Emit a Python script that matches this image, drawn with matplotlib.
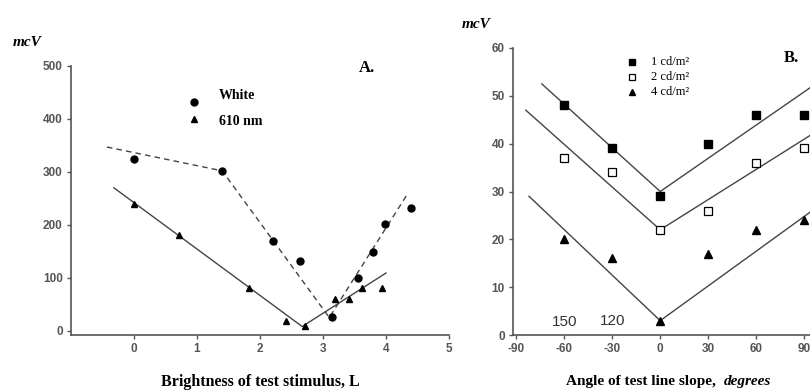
import matplotlib
matplotlib.use("Agg")
import matplotlib.pyplot as plt

plt.rcParams["axes.unicode_minus"] = False

# Panel A data
white_x = [0, 1.4, 2.2, 2.64, 3.14, 3.56, 3.8, 3.98, 4.4]
white_y = [324, 302, 170, 132, 26, 100, 149, 202, 232]
nm610_x = [0, 0.71, 1.82, 2.41, 2.72, 3.19, 3.41, 3.62, 3.94]
nm610_y = [240, 181, 81, 19, 9, 60, 60, 81, 81]
fit_white_x = [-0.43, 1.4, 3.1, 4.35]
fit_white_y = [347, 302, 25, 260]
fit_610_x = [-0.32, 2.67, 4.0]
fit_610_y = [270, 8, 109]

# Panel B data
angles = [-60, -30, 0, 30, 60, 90]
lum1 = [48, 39, 29, 40, 46, 46]
lum2 = [37, 34, 22, 26, 36, 39]
lum4 = [20, 16, 3, 17, 22, 24]
fit1_x, fit1_y = [-74, 0, 95], [52.5, 30, 52]
fit2_x, fit2_y = [-84, 0, 95], [47, 22, 42]
fit4_x, fit4_y = [-82, 0, 95], [29, 3, 26]

serif = "Liberation Serif"
sans = "Liberation Sans"
tick_color = "#555555"

fig = plt.figure(figsize=(8.1, 3.92), dpi=100)

def style_axes(ax):
    for s in ["top", "right"]:
        ax.spines[s].set_visible(False)
    for s in ["left", "bottom"]:
        ax.spines[s].set_color("#555555")
        ax.spines[s].set_linewidth(1.2)
    ax.tick_params(direction="out", length=3, width=1, colors="#555555",
                   labelsize=8.5, pad=3)
    for lab in ax.get_xticklabels() + ax.get_yticklabels():
        lab.set_fontfamily(sans)
        lab.set_fontweight("bold")
        lab.set_color(tick_color)

# ---- Panel A
axA = fig.add_axes([71 / 810, 1 - 335 / 392, (449 - 71) / 810, (335 - 66) / 392])
axA.set_xlim(-1, 5)
axA.set_ylim(-8, 500)
axA.plot(fit_white_x, fit_white_y, color="#444444", lw=1, ls=(0, (4, 3)))
axA.plot(fit_610_x, fit_610_y, color="#444444", lw=1)
axA.plot(white_x, white_y, "o", color="black", ms=5, ls="none")
axA.plot(nm610_x, nm610_y, "^", color="black", ms=4.5, ls="none")
axA.set_xticks([0, 1, 2, 3, 4, 5])
axA.set_yticks([0, 100, 200, 300, 400, 500])
style_axes(axA)

axA.plot([0.95], [432], "o", color="black", ms=5, clip_on=False)
axA.plot([0.95], [400], "^", color="black", ms=4.5, clip_on=False)
axA.text(1.35, 445, "White", fontfamily=serif, fontweight="bold", fontsize=10, va="center")
axA.text(1.35, 396, "610 nm", fontfamily=serif, fontweight="bold", fontsize=10, va="center")
axA.text(3.57, 496, "A.", fontfamily=serif, fontweight="bold", fontsize=12, va="center")
fig.text(13 / 810, 1 - 43 / 392, "mcV", fontfamily=serif, fontweight="bold",
         fontstyle="italic", fontsize=11, va="center")
fig.text(260 / 810, 1 - 382 / 392, "Brightness of test stimulus, L", fontfamily=serif,
         fontweight="bold", fontsize=11.5, ha="center", va="center")

# ---- Panel B
axB = fig.add_axes([513 / 810, 1 - 335 / 392, 1 - 513 / 810, (335 - 48) / 392])
axB.set_xlim(-92, 93.6)
axB.set_ylim(0, 60)
for fx, fy in [(fit1_x, fit1_y), (fit2_x, fit2_y), (fit4_x, fit4_y)]:
    axB.plot(fx, fy, color="#444444", lw=1)
axB.plot(angles, lum1, "s", color="black", ms=5.5, ls="none", clip_on=False)
axB.plot(angles, lum2, "s", mfc="white", mec="black", mew=0.9, ms=5.5, ls="none", clip_on=False)
axB.plot(angles, lum4, "^", color="black", ms=5.5, ls="none", clip_on=False)
axB.set_xticks([-90, -60, -30, 0, 30, 60, 90])
axB.set_yticks([0, 10, 20, 30, 40, 50, 60])
style_axes(axB)

legend_y = [57.1, 54.0, 50.8]
axB.plot([-17.5], [legend_y[0]], "s", color="black", ms=5, clip_on=False)
axB.plot([-17.5], [legend_y[1]], "s", mfc="white", mec="black", mew=0.9, ms=5, clip_on=False)
axB.plot([-17.5], [legend_y[2]], "^", color="black", ms=5, clip_on=False)
for yy, lab in zip(legend_y, ["1 cd/m²", "2 cd/m²", "4 cd/m²"]):
    axB.text(-6, yy, lab, fontfamily=serif, fontsize=9, va="center")
axB.text(77, 58, "B.", fontfamily=serif, fontweight="bold", fontsize=12, va="center")
axB.text(-60, 2.8, "150", fontfamily=sans, fontsize=11, color="#333333", ha="center", va="center")
axB.text(-30, 3.0, "120", fontfamily=sans, fontsize=11, color="#333333", ha="center", va="center")
fig.text(462 / 810, 1 - 24 / 392, "mcV", fontfamily=serif, fontweight="bold",
         fontstyle="italic", fontsize=11, va="center")
fig.text(566 / 810, 1 - 382 / 392, "Angle of test line slope, ", fontfamily=serif,
         fontweight="bold", fontsize=11, ha="left", va="center")
fig.text(724 / 810, 1 - 382 / 392, "degrees", fontfamily=serif,
         fontweight="bold", fontstyle="italic", fontsize=11, ha="left", va="center")

fig.savefig("out.png", dpi=100)
